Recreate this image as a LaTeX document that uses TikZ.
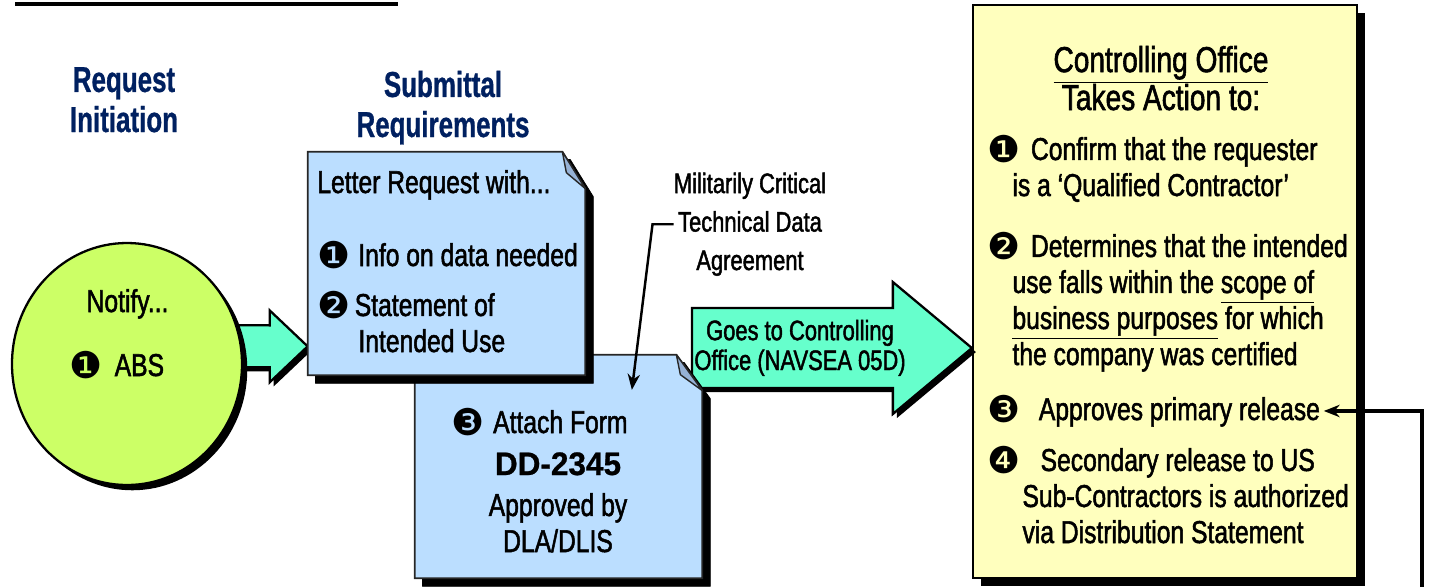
\documentclass[tikz,border=0pt]{standalone}
\usepackage{fontspec}
\setmainfont{Liberation Sans}[FakeStretch=0.78,FakeBold=1.6]
\newfontfamily\titlefont{Liberation Sans Bold}[FakeStretch=0.72,FakeBold=0.8]
\newfontfamily\formfont{Liberation Sans Bold}[FakeStretch=0.97,FakeBold=0.8]
\newfontfamily\dingfont{DejaVu Sans}
\usetikzlibrary{arrows.meta,calc,shapes.geometric,shadows}

\definecolor{limegreen}{RGB}{204,255,102}
\definecolor{aquagreen}{RGB}{102,255,204}
\definecolor{noteblue}{RGB}{187,222,255}
\definecolor{foldblue}{RGB}{150,178,214}
\definecolor{paleyellow}{RGB}{255,255,190}
\definecolor{titleblue}{RGB}{0,32,96}

\newcommand{\nb}[1]{\raisebox{-1.5pt}{\dingfont\fontsize{21}{21}\selectfont #1}}
\def\pxu{0.02cm}

% note with a folded corner: node, fold width, fold height
\newcommand{\foldnote}[3]{%
  \draw[notefill] (#1.north west) -- ([shift={(-#2,0)}]#1.north east)
    -- ([shift={(0,#3)}]#1.north east) -- (#1.south east) -- (#1.south west) -- cycle;
  \draw[foldfill] ([shift={(-#2,0)}]#1.north east) -- ([shift={(-#2+4,#3-16)}]#1.north east)
    -- ([shift={(0,#3)}]#1.north east) -- cycle;
}

% block arrow: start, tip, shaft half width, head half width, head length
\newcommand{\blockarrow}[5]{%
  \draw[arrowfill] ($(#1)+(0,-#3)$) -- ($(#2)+(-#5,-#3)$) -- ($(#2)+(-#5,-#4)$) -- (#2)
    -- ($(#2)+(-#5,#4)$) -- ($(#2)+(-#5,#3)$) -- ($(#1)+(0,#3)$) -- cycle;
}

\begin{document}
\begin{tikzpicture}[%
    x=0.02cm, y=-0.02cm,
    >={Stealth[length=9pt,width=7pt]},
    notearea/.style={rectangle, inner sep=0pt},
    notefill/.style={fill=noteblue, draw=black!85, line width=1pt,
      preaction={fill=black, draw=black, transform canvas={xshift=4.5pt, yshift=-4.5pt}}},
    foldfill/.style={fill=foldblue, draw=black!85, line width=0.8pt, line join=round},
    arrowfill/.style={fill=aquagreen, draw=black, line width=1.3pt,
      preaction={fill=black, transform canvas={xshift=2.3pt, yshift=-2.3pt}}},
    bubble/.style={ellipse, draw=black, line width=1.3pt, fill=limegreen,
      minimum width=230*\pxu, minimum height=242*\pxu,
      drop shadow={shadow xshift=3pt, shadow yshift=-3pt, fill=black, opacity=1}},
    officebox/.style={rectangle, draw=black, line width=1.3pt, fill=paleyellow,
      minimum width=384*\pxu, minimum height=573*\pxu,
      drop shadow={shadow xshift=4.5pt, shadow yshift=-4.5pt, fill=black, opacity=1}},
    body/.style={font=\fontsize{18}{20.5}\selectfont, inner sep=0pt, anchor=base west, align=left},
    title/.style={font=\titlefont\fontsize{20.5}{22.8}\selectfont, text=titleblue,
      inner sep=0pt, anchor=base, align=center},
    heading/.style={font=\fontsize{20.5}{21.6}\selectfont, inner sep=0pt, anchor=base, align=center},
    remark/.style={font=\fontsize{16}{21.9}\selectfont, inner sep=0pt, anchor=base, align=center},
    formid/.style={font=\formfont\fontsize{18.5}{20}\selectfont, inner sep=0pt, anchor=base}
  ]
  \useasboundingbox (0,0) rectangle (1434,586);

  % areas of the two notes
  \path (446.5,263.5) node[notearea, minimum width=277*\pxu, minimum height=223*\pxu] (letter) {}
        (558.5,466.5) node[notearea, minimum width=287*\pxu, minimum height=223*\pxu] (form) {};

  \draw[line width=2.3pt] (15,4) -- (398,4);

  \node[officebox] (office) at (1165,291.5) {};

  % arrow into the letter
  \coordinate (startA) at (200,346);
  \coordinate (tipA) at ([shift={(0,-29)}]letter.south west);
  \blockarrow{startA}{tipA}{21}{36}{38}

  \node[bubble] (notify) at (127,364) {};

  % arrow to the controlling office
  \coordinate (startB) at (692,348);
  \coordinate (tipB) at (office.west |- startB);
  \blockarrow{startB}{tipB}{40}{66}{79}

  \foldnote{form}{26}{36}
  \foldnote{letter}{23}{37}

  % titles (base = last line)
  \node[title] (reqtitle) at (124,132) {Request\\Initiation};
  \node[title] (subtitle) at (443,137) {Submittal\\Requirements};

  \node[body, anchor=base] (notifytxt) at (127.5,312) {Notify...};
  \node[body] (abs) at (69,376) {\nb{❶}\hspace*{7pt}ABS};

  \node[body] (lettertxt) at (317,193) {Letter Request with...};
  \node[body] (info) at (317,266) {\nb{❶}\hspace*{4.5pt}Info on data needed};
  \node[body] (stmt) at (317,352) {\nb{❷}\hspace*{2.5pt}Statement of\\\hspace*{23.4pt}Intended Use};

  \node[body] (attach) at (451,433) {\nb{❸}\hspace*{5pt}Attach Form};
  \node[formid] (ddform) at (558,475) {DD-2345};
  \node[body, anchor=base, align=center] (approved) at (558,552) {Approved by\\DLA/DLIS};

  \node[remark] (mctda) at (750,270) {Militarily Critical\\Technical Data\\Agreement};
  \node[remark, font=\fontsize{16}{17}\selectfont] (goes) at (800,370) {Goes to Controlling\\Office (NAVSEA 05D)};

  \node[heading] (offtitle) at (1161,110) {\underline{Controlling Office}\\Takes Action to:};
  \node[body] (confirm) at (987,196) {\nb{❶}\hspace*{6pt}Confirm that the requester\\\hspace*{14.3pt}is a ‘Qualified Contractor’};
  \node[body] (determ) at (987,365) {\nb{❷}\hspace*{6pt}Determines that the intended\\\hspace*{14.3pt}use falls within the \underline{scope of}\\\hspace*{14.3pt}\underline{business purposes} for which\\\hspace*{14.3pt}the company was certified};
  \node[body] (approve) at (987,420) {\nb{❸}\hspace*{10.5pt}Approves primary release};
  \node[body] (second) at (987,543) {\nb{❹}\hspace*{11.5pt}Secondary release to US\\\hspace*{20pt}Sub-Contractors is authorized\\\hspace*{20pt}via Distribution Statement};

  % connectors
  \coordinate (attachpt) at ([shift={(217,37)}]form.north west);
  \draw[->, line width=1.4pt, shorten >=1pt] (mctda.west) -- ++(-21,0) -- (attachpt);

  \coordinate (fbstart) at (1422,590);
  \draw[->, line width=2pt, shorten >=2pt] (fbstart) |- (approve.east);
\end{tikzpicture}
\end{document}
